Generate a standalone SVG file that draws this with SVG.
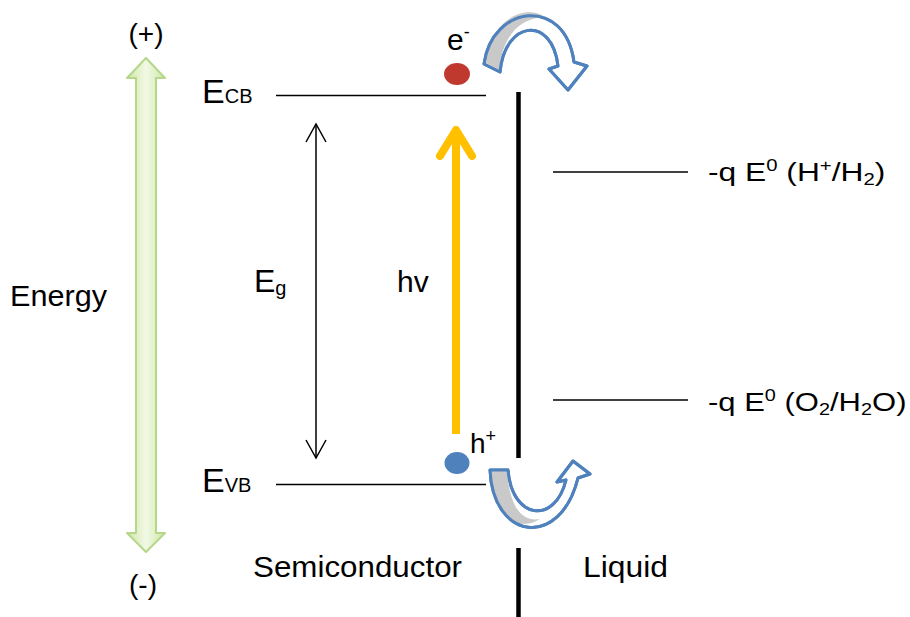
<svg xmlns="http://www.w3.org/2000/svg" width="910" height="617" viewBox="0 0 910 617">
<defs>
<linearGradient id="gg" x1="0" y1="0" x2="1" y2="0">
<stop offset="0" stop-color="#cfe7a6"/>
<stop offset="0.5" stop-color="#f2f9e6"/>
<stop offset="1" stop-color="#cfe7a6"/>
</linearGradient>
<marker id="openHead" markerUnits="userSpaceOnUse" markerWidth="24" markerHeight="24" viewBox="-20 -12 22 24" refX="0" refY="0" orient="auto-start-reverse">
<polyline points="-18,-10 0,0 -18,10" fill="none" stroke="#000" stroke-width="1.5"/>
</marker>
</defs>
<style>
text{font-family:"Liberation Sans",Arial,sans-serif;fill:#000}
.lvl{stroke:#000;stroke-width:1.5}
.wall{stroke:#000;stroke-width:4.5}
.curve{stroke:#4f81bd;stroke-width:3;stroke-linejoin:round}
.grey{fill:#c9c9c9;stroke:none}
.hv{stroke:#ffc000;stroke-width:8;fill:none}
</style>

<g id="energy-axis">
<polygon points="146,58 165,78 156,78 156,533 165,533 146,552 127,533 136,533 136,78 127,78" fill="url(#gg)" stroke="#b5d78a" stroke-width="2" stroke-linejoin="round"/>
<text x="146" y="43" font-size="28" text-anchor="middle">(+)</text>
<text x="143" y="594" font-size="28" text-anchor="middle">(-)</text>
<text x="10" y="306" font-size="30" textLength="97" lengthAdjust="spacingAndGlyphs">Energy</text>
</g>

<g id="ecb">
<line class="lvl" x1="276" y1="95.5" x2="486" y2="95.5"/>
<text x="202" y="103" font-size="34">E<tspan font-size="20">CB</tspan></text>
</g>

<g id="evb">
<line class="lvl" x1="276" y1="484.5" x2="486" y2="484.5"/>
<text x="202" y="492" font-size="34">E<tspan font-size="20">VB</tspan></text>
</g>

<g id="eg-label">
<text x="254" y="292" font-size="32">E<tspan font-size="20" dy="3">g</tspan></text>
</g>

<g id="hv-label">
<text x="397" y="292" font-size="30">hv</text>
</g>

<g id="electron">
<ellipse cx="457" cy="74" rx="13" ry="11" fill="#c0392f"/>
<text x="447" y="50" font-size="30">e<tspan font-size="18" dy="-12">-</tspan></text>
</g>

<g id="hole">
<ellipse cx="457" cy="463" rx="12.5" ry="11" fill="#4f81bd"/>
<text x="470" y="453" font-size="28">h<tspan font-size="18" dy="-11">+</tspan></text>
</g>

<g id="interface">
<line class="wall" x1="518.5" y1="92" x2="518.5" y2="458"/>
<line class="wall" x1="518.5" y1="548" x2="518.5" y2="617"/>
</g>

<g id="h2-level">
<line class="lvl" x1="553" y1="172" x2="688" y2="172"/>
<text transform="translate(708,181) scale(1.27,1)" font-size="25">-q E<tspan font-size="16" dy="-10">0</tspan><tspan dy="10"> (H</tspan><tspan font-size="16" dy="-10">+</tspan><tspan dy="10">/H</tspan><tspan font-size="16" dy="4">2</tspan><tspan dy="-4">)</tspan></text>
</g>

<g id="o2-level">
<line class="lvl" x1="553" y1="400" x2="688" y2="400"/>
<text transform="translate(708,411) scale(1.24,1)" font-size="25">-q E<tspan font-size="16" dy="-10">0</tspan><tspan dy="10"> (O</tspan><tspan font-size="16" dy="4">2</tspan><tspan dy="-4">/H</tspan><tspan font-size="16" dy="4">2</tspan><tspan dy="-4">O)</tspan></text>
</g>

<g id="semiconductor-label">
<text x="253" y="577" font-size="29" textLength="209" lengthAdjust="spacingAndGlyphs">Semiconductor</text>
</g>
<g id="liquid-label">
<text x="583" y="577" font-size="29" textLength="85" lengthAdjust="spacingAndGlyphs">Liquid</text>
</g>

<g id="connectors">
<line x1="316" y1="124" x2="316" y2="458" stroke="#000" stroke-width="1.5" marker-start="url(#openHead)" marker-end="url(#openHead)"/>
<path class="hv" d="M456,434 V130"/>
<polyline class="hv" points="440,156 456,130 472,156" stroke-linejoin="round" stroke-linecap="round"/>
<g id="electron-transfer">
<path d="M484,64 C492,5 565,-5 574,62 L587,66 L568,90 L549,69 L558,66 C552,15 505,20 500,72 Z" fill="#fff" class="curve"/>
<path class="grey" d="M486,63 C493,12 530,6 545,17 C520,18 503,35 499,70 Z"/>
<path d="M484,64 C492,5 565,-5 574,62 L587,66 L568,90 L549,69 L558,66 C552,15 505,20 500,72 Z" fill="none" class="curve"/>
</g>
<g id="hole-transfer">
<path d="M490,470 C493,540 560,550 578,478 L590,474 L573,461 L557,482 L566,480 C555,525 512,520 508,470 Z" fill="#fff" class="curve"/>
<path class="grey" d="M491,471 L507,471 C510,512 525,522 540,519 C520,532 494,520 491,471 Z"/>
<path d="M490,470 C493,540 560,550 578,478 L590,474 L573,461 L557,482 L566,480 C555,525 512,520 508,470 Z" fill="none" class="curve"/>
</g>
</g>
</svg>
